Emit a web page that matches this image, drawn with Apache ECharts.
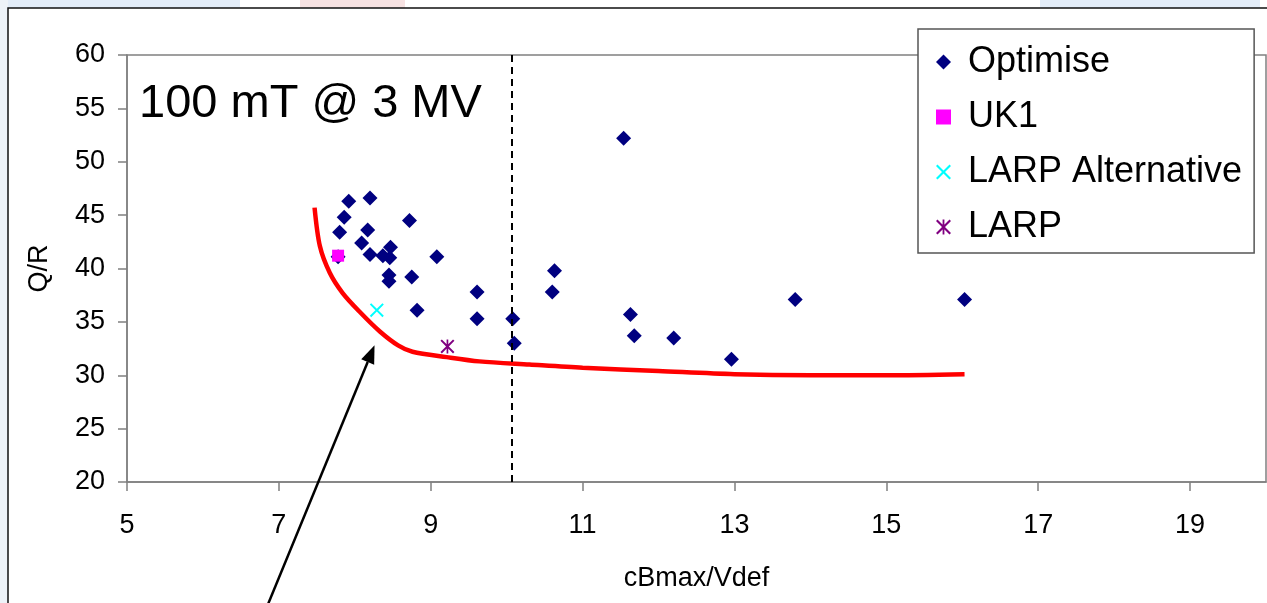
<!DOCTYPE html>
<html>
<head>
<meta charset="utf-8">
<title>Q/R vs cBmax/Vdef</title>
<script src="https://cdn.jsdelivr.net/npm/echarts@6.0.0/dist/echarts.min.js"></script>
<style>
  html, body { margin: 0; padding: 0; background: #fff; }
  #chart { width: 1267px; height: 603px; }
</style>
</head>
<body>
<div id="chart"></div>
<script>
// data
var optimise = [
  [7.78, 41.1], [7.80, 43.4], [7.86, 44.8], [7.92, 46.3], [8.20, 46.6],
  [8.17, 43.6], [8.09, 42.4], [8.20, 41.3], [8.37, 41.2], [8.47, 42.0],
  [8.46, 41.0], [8.45, 39.4], [8.45, 38.8], [8.72, 44.5], [8.75, 39.2],
  [8.82, 36.1], [9.08, 41.1], [9.61, 37.8], [9.61, 35.3], [10.08, 35.3],
  [10.10, 33.0], [11.54, 52.2], [10.63, 39.8], [10.60, 37.8], [11.63, 35.7],
  [11.68, 33.7], [12.20, 33.5], [12.96, 31.5], [13.80, 37.1], [16.03, 37.1]
];
var uk1 = [[7.78, 41.2]];
var larpAlt = [[8.29, 36.1]];
var larp = [[9.22, 32.7]];
var limitCurve = [
  [7.47, 45.7], [7.54, 42.1], [7.67, 39.6], [7.84, 37.7], [8.07, 35.9],
  [8.33, 34.1], [8.57, 32.8], [8.76, 32.2], [9.21, 31.7], [9.64, 31.3],
  [10.3, 31.0], [11.0, 30.7], [12.0, 30.4], [13.0, 30.1], [14.0, 30.0],
  [15.0, 30.0], [16.03, 30.1]
];
var dashX = 10.07;
// arrow annotation, data coords (tail sits below the axis)
var arrowTail = [6.86, 8.6];
var arrowTip = [8.26, 32.8];

var crossPath = 'path://M0,1L1,0L5,4L9,0L10,1L6,5L10,9L9,10L5,6L1,10L0,9L4,5Z';
var starPath = 'path://M0,1L1,0L5,4L9,0L10,1L6,5L10,9L9,10L5,6L1,10L0,9L4,5Z' +
  'M4.4,0L5.6,0L5.6,10L4.4,10Z';

var FONT = 'Liberation Sans, Arial, sans-serif';
var myChart = echarts.init(document.getElementById('chart'));

var option = {
  backgroundColor: 'transparent',
  animation: false,
  title: {
    text: '100 mT @ 3 MV',
    left: 139,
    top: 81,
    padding: 0,
    textStyle: { fontFamily: FONT, fontSize: 47, fontWeight: 'normal', color: '#000', lineHeight: 47 }
  },
  legend: {
    orient: 'vertical',
    left: 918,
    top: 29,
    data: ['Optimise', 'UK1', 'LARP Alternative', 'LARP'],
    backgroundColor: '#fff',
    borderColor: '#555',
    borderWidth: 1.5,
    borderRadius: 0,
    padding: [15, 12, 8, 18],
    itemGap: 19,
    itemWidth: 15,
    itemHeight: 15,
    textStyle: { fontFamily: FONT, fontSize: 36, color: '#000', lineHeight: 36, padding: [0, 0, 0, 12] }
  },
  grid: {
    left: 127,
    top: 55,
    right: 1,
    bottom: 121,
    show: true,
    borderColor: '#808080',
    borderWidth: 1.5,
    backgroundColor: '#fff'
  },
  xAxis: {
    type: 'value',
    min: 5,
    max: 20,
    interval: 2,
    name: 'cBmax/Vdef',
    nameLocation: 'middle',
    nameGap: 83,
    nameTextStyle: { fontFamily: FONT, fontSize: 27, color: '#000' },
    splitLine: { show: false },
    axisLine: { onZero: false, lineStyle: { color: '#808080', width: 1.5 } },
    axisTick: { length: 9, lineStyle: { color: '#808080', width: 1.5 } },
    axisLabel: { fontFamily: FONT, fontSize: 27, color: '#000', margin: 30, showMaxLabel: false }
  },
  yAxis: {
    type: 'value',
    min: 20,
    max: 60,
    interval: 5,
    name: 'Q/R',
    nameLocation: 'middle',
    nameRotate: 90,
    nameGap: 74,
    nameTextStyle: { fontFamily: FONT, fontSize: 27, color: '#000' },
    splitLine: { show: false },
    axisLine: { lineStyle: { color: '#808080', width: 1.5 } },
    axisTick: { length: 9, lineStyle: { color: '#808080', width: 1.5 } },
    axisLabel: { fontFamily: FONT, fontSize: 27, color: '#000', margin: 22 }
  },
  graphic: [
    // slide background peeking out round the chart frame
    { type: 'rect', z: -10, shape: { x: 0, y: 0, width: 240, height: 8 }, style: { fill: '#e2ecf8' } },
    { type: 'rect', z: -10, shape: { x: 300, y: 0, width: 105, height: 8 }, style: { fill: '#f7e2e2' } },
    { type: 'rect', z: -10, shape: { x: 1040, y: 0, width: 220, height: 8 }, style: { fill: '#e2ecf8' } },
    { type: 'rect', z: -10, shape: { x: 0, y: 0, width: 8, height: 603 }, style: { fill: '#edf2f8' } },
    // chart area frame
    { type: 'rect', z: -9, shape: { x: 8, y: 8, width: 1300, height: 700 },
      style: { fill: '#fff', stroke: '#111', lineWidth: 1.5 } }
  ],
  series: [
    {
      name: 'limit',
      type: 'line',
      data: limitCurve,
      smooth: 0.3,
      showSymbol: false,
      lineStyle: { color: '#ff0000', width: 4.5 },
      z: 1,
      silent: true,
      markLine: {
        silent: true,
        symbol: 'none',
        label: { show: false },
        lineStyle: { color: '#000', type: [7, 5], width: 2 },
        data: [{ xAxis: dashX }]
      }
    },
    {
      name: 'Optimise',
      type: 'scatter',
      symbol: 'diamond',
      symbolSize: 15,
      data: optimise,
      itemStyle: { color: '#000080', opacity: 1 },
      z: 3
    },
    {
      name: 'UK1',
      type: 'scatter',
      symbol: 'rect',
      symbolSize: 12,
      data: uk1,
      itemStyle: { color: '#ff00ff', opacity: 1 },
      z: 4
    },
    {
      name: 'LARP Alternative',
      type: 'scatter',
      symbol: crossPath,
      symbolSize: 14,
      data: larpAlt,
      itemStyle: { color: '#00ffff', opacity: 1 },
      z: 4
    },
    {
      name: 'LARP',
      type: 'scatter',
      symbol: starPath,
      symbolSize: 14,
      data: larp,
      itemStyle: { color: '#800080', opacity: 1 },
      z: 4
    }
  ]
};

myChart.setOption(option);

// arrow pointing at the limit curve
var p0 = myChart.convertToPixel({ gridIndex: 0 }, arrowTail);
var p1 = myChart.convertToPixel({ gridIndex: 0 }, arrowTip);
var dx = p1[0] - p0[0], dy = p1[1] - p0[1];
var len = Math.sqrt(dx * dx + dy * dy);
var ux = dx / len, uy = dy / len;
var headLen = 18, headHalf = 7;
var bx = p1[0] - ux * headLen, by = p1[1] - uy * headLen;
myChart.setOption({
  graphic: option.graphic.concat([
    { type: 'line', z: 50, shape: { x1: p0[0], y1: p0[1], x2: bx, y2: by },
      style: { stroke: '#000', lineWidth: 2.5 } },
    { type: 'polygon', z: 50,
      shape: { points: [[p1[0], p1[1]], [bx - uy * headHalf, by + ux * headHalf], [bx + uy * headHalf, by - ux * headHalf]] },
      style: { fill: '#000' } }
  ])
});
</script>
</body>
</html>
